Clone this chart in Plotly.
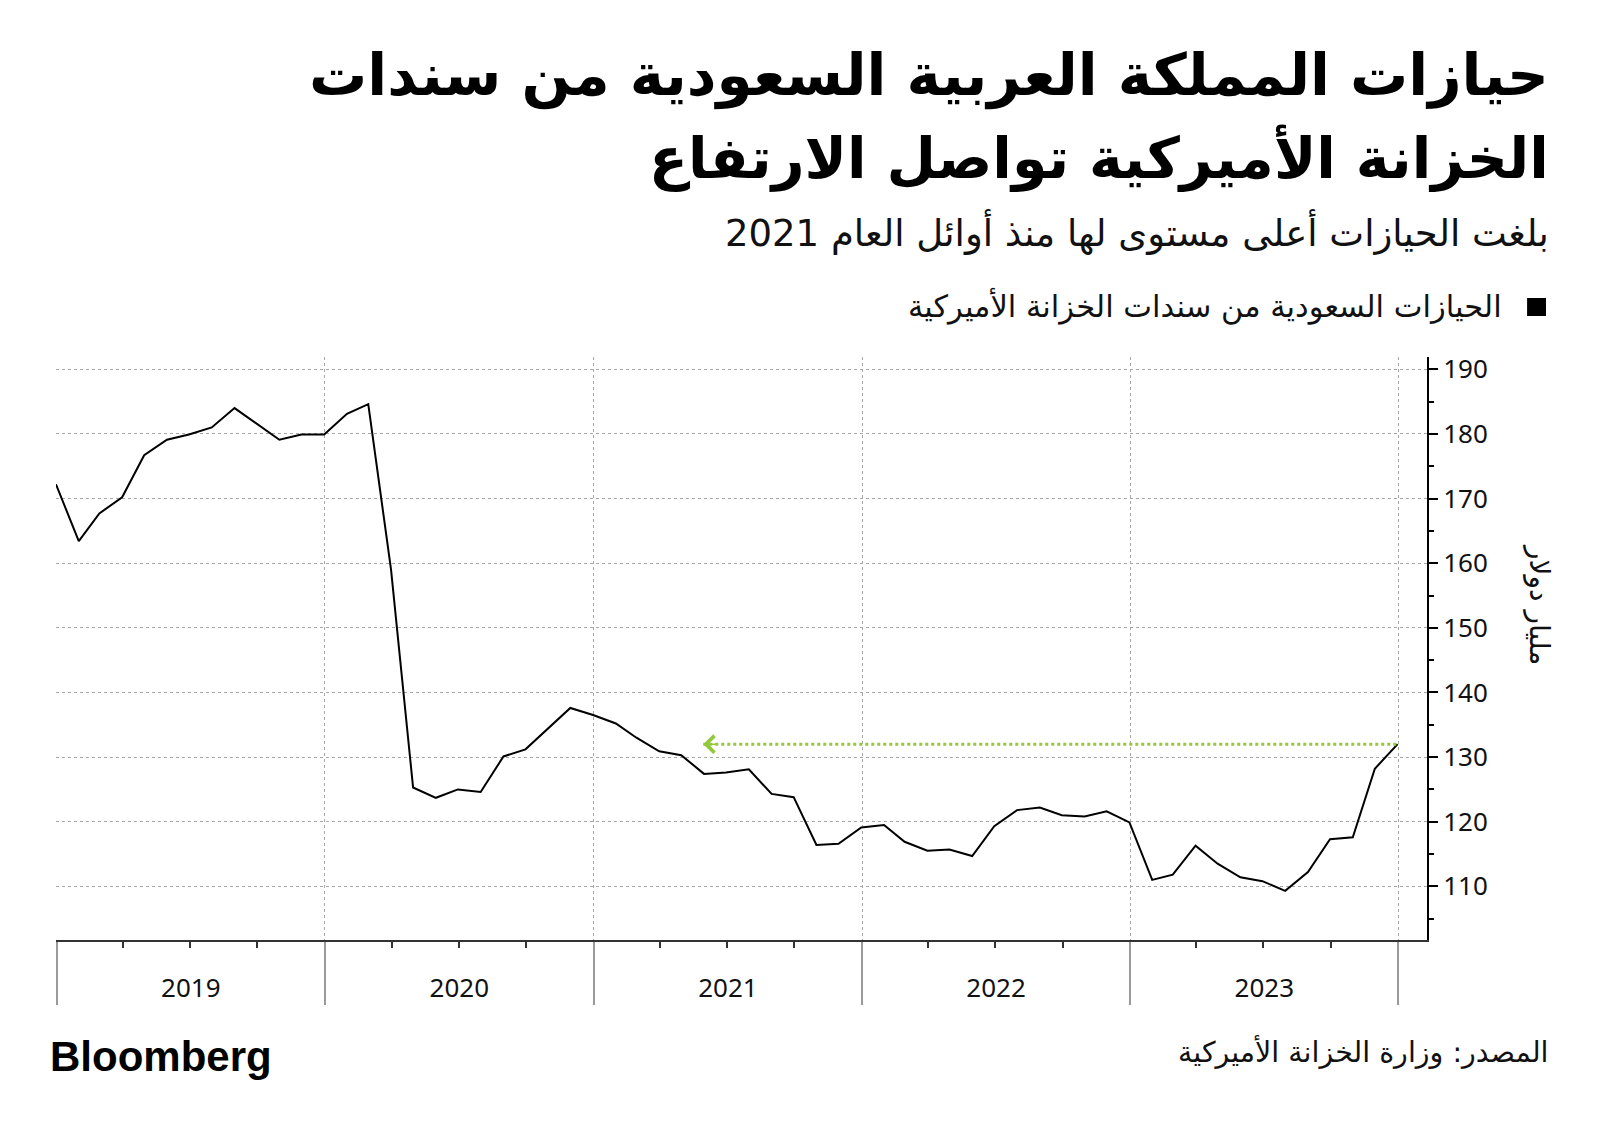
import pandas as pd
import plotly.graph_objects as go

# Saudi holdings of US Treasuries, USD bn, month-end Dec 2018 .. Dec 2023
dates = pd.date_range("2018-12-31", periods=61, freq="ME")
holdings = [
    172.2, 163.4, 167.7, 170.2, 176.7, 179.1, 179.9, 181.0, 184.0, 181.6, 179.1, 179.9,
    179.9, 183.1, 184.6, 159.0, 125.3, 123.7, 125.0, 124.6, 130.1, 131.2, 134.4, 137.6,
    136.5, 135.2, 133.0, 130.9, 130.3, 127.4, 127.6, 128.1, 124.3, 123.8, 116.4, 116.6,
    119.1, 119.5, 116.9, 115.5, 115.7, 114.7, 119.3, 121.8, 122.2, 121.0, 120.8, 121.6,
    119.9, 111.0, 111.8, 116.3, 113.5, 111.4, 110.8, 109.3, 112.2, 117.3, 117.6, 128.2,
    132.0,
]

# arrow: latest level traced back to early 2021
arrow_tip = "2021-05-30"

title_1 = "حيازات المملكة العربية السعودية من سندات"
title_2 = "الخزانة الأميركية تواصل الارتفاع"
subtitle = "بلغت الحيازات أعلى مستوى لها منذ أوائل العام 2021"
legend_text = "الحيازات السعودية من سندات الخزانة الأميركية"
y_title = "مليار دولار"
source = "المصدر: وزارة الخزانة الأميركية"

AR_FONT = "DejaVu Sans"
NUM_FONT = "Noto Sans"
GREEN = "#93c83c"
RIGHT_X = 1.0905  # right edge of the header / footer text, in paper units

fig = go.Figure()

fig.add_trace(go.Scatter(
    x=dates, y=holdings, mode="lines",
    line=dict(color="black", width=2),
    showlegend=False, hoverinfo="skip",
))

# dotted green guide from the latest value back to early 2021
fig.add_trace(go.Scatter(
    x=[arrow_tip, dates[-1]], y=[holdings[-1], holdings[-1]], mode="lines",
    line=dict(color=GREEN, width=3, dash="dot"),
    showlegend=False, hoverinfo="skip",
))
fig.add_annotation(
    x=arrow_tip, y=holdings[-1], xref="x", yref="y",
    ax=14, ay=0, showarrow=True, arrowhead=4, arrowsize=2.2, arrowwidth=1.5,
    arrowcolor=GREEN, text="",
)

fig.update_xaxes(
    range=["2018-12-31", "2024-02-09"],
    tick0="2019-01-01", dtick="M12", tickformat="%Y", ticklabelmode="period",
    ticks="outside", ticklen=63, tickwidth=1.5, tickcolor="#9a9a9a",
    ticklabelstandoff=-39,
    tickfont=dict(family=NUM_FONT, size=26, color="#111"),
    minor=dict(dtick="M3", tick0="2019-01-01", ticks="outside", ticklen=6,
               tickwidth=1.5, tickcolor="#333", showgrid=False),
    showline=True, linecolor="#333", linewidth=1.5,
    showgrid=True, gridcolor="#a8a8a8", griddash="dot", gridwidth=1,
    zeroline=False,
)
fig.update_yaxes(
    side="right", range=[101.7, 191.9], tick0=0, dtick=10,
    ticks="outside", ticklen=9, tickwidth=2, tickcolor="black",
    minor=dict(dtick=5, ticks="outside", ticklen=5, tickwidth=1.5, tickcolor="black"),
    tickfont=dict(family=NUM_FONT, size=26, color="#111"),
    showline=True, linecolor="black", linewidth=2,
    showgrid=True, gridcolor="#a8a8a8", griddash="dot", gridwidth=1,
    zeroline=False,
)

# header, legend and footer text
fig.add_annotation(text=title_1, x=RIGHT_X, y=1.482, xref="paper", yref="paper",
                   xanchor="right", yanchor="middle", showarrow=False,
                   font=dict(family=AR_FONT, size=58, color="black", weight="bold"))
fig.add_annotation(text=title_2, x=RIGHT_X, y=1.341, xref="paper", yref="paper",
                   xanchor="right", yanchor="middle", showarrow=False,
                   font=dict(family=AR_FONT, size=57, color="black", weight="bold"))
fig.add_annotation(text=subtitle, x=RIGHT_X, y=1.2144, xref="paper", yref="paper",
                   xanchor="right", yanchor="middle", showarrow=False,
                   font=dict(family=AR_FONT, size=37, color="#111"))
fig.add_annotation(text=legend_text, x=1.0565, y=1.0875, xref="paper", yref="paper",
                   xanchor="right", yanchor="middle", showarrow=False,
                   font=dict(family=AR_FONT, size=30.5, color="#111"))
fig.add_shape(type="rect", xref="paper", yref="paper",
              x0=1.0730, x1=1.0868, y0=1.0703, y1=1.1012,
              fillcolor="black", line=dict(width=0))
fig.add_annotation(text=y_title, x=1.095, y=0.575, xref="paper", yref="paper",
                   textangle=90, showarrow=False,
                   font=dict(family=AR_FONT, size=28, color="#111"))
fig.add_annotation(text=source, x=RIGHT_X, y=-0.1904, xref="paper", yref="paper",
                   xanchor="right", yanchor="middle", showarrow=False,
                   font=dict(family=AR_FONT, size=28.5, color="#111"))
fig.add_annotation(text="Bloomberg", x=-0.006, y=-0.199, xref="paper", yref="paper",
                   xanchor="left", yanchor="middle", showarrow=False,
                   font=dict(family="Liberation Sans", size=42, color="black", weight="bold"))

# the page body adds an 8px offset, so margins are trimmed to land the plot on target
fig.update_layout(
    width=1600, height=1135,
    margin=dict(l=48, r=181, t=349, b=203),
    paper_bgcolor="white", plot_bgcolor="white",
    showlegend=False,
)

fig.write_html("out.html")
